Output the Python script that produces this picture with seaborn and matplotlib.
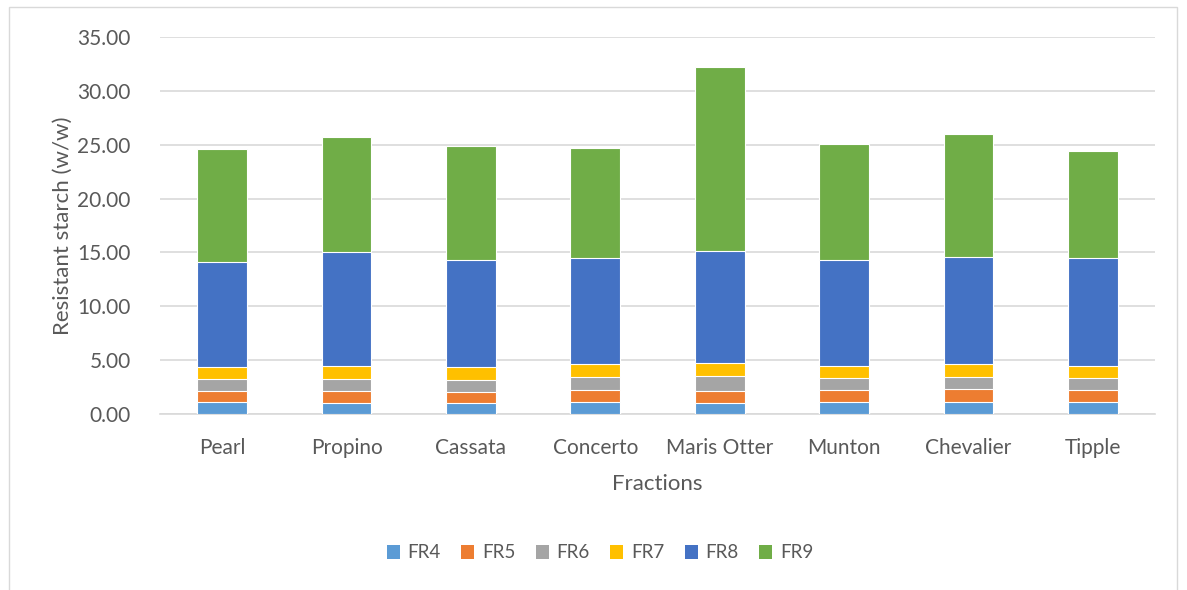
import matplotlib
matplotlib.use("Agg")
import matplotlib.pyplot as plt
from matplotlib.patches import Rectangle, Patch
import numpy as np
import pandas as pd
import seaborn as sns

varieties = ["Pearl", "Propino", "Cassata", "Concerto", "Maris Otter",
             "Munton", "Chevalier", "Tipple"]
fractions = ["FR4", "FR5", "FR6", "FR7", "FR8", "FR9"]

fr4 = [1.10, 1.04, 1.04, 1.13, 1.04, 1.13, 1.13, 1.10]
fr5 = [1.05, 1.14, 1.02, 1.14, 1.14, 1.12, 1.21, 1.15]
fr6 = [1.08, 1.09, 1.12, 1.15, 1.33, 1.11, 1.11, 1.07]
fr7 = [1.09, 1.17, 1.14, 1.18, 1.24, 1.12, 1.17, 1.18]
fr8 = [9.81, 10.62, 10.00, 9.84, 10.34, 9.84, 9.91, 9.97]
fr9 = [10.49, 10.64, 10.55, 10.21, 17.15, 10.77, 11.49, 9.93]

colors = ["#5B9BD5", "#ED7D31", "#A5A5A5", "#FFC000", "#4472C4", "#70AD47"]
text_color = "#595959"
grid_color = "#D9D9D9"

sns.set_theme(style="white")
plt.rcParams["font.family"] = ["Lato", "DejaVu Sans"]

df = pd.DataFrame({"FR4": fr4, "FR5": fr5, "FR6": fr6, "FR7": fr7,
                   "FR8": fr8, "FR9": fr9}, index=varieties)
cum = df[fractions].cumsum(axis=1)

fig = plt.figure(figsize=(11.87, 5.90), dpi=100)
ax = fig.add_axes([160 / 1187, 1 - 414 / 590, 995 / 1187, 377 / 590])

# stacked bars: draw cumulative totals from the top segment down
for name, col in reversed(list(zip(fractions, colors))):
    sns.barplot(x=varieties, y=cum[name].values, color=col, width=0.4,
                edgecolor="white", linewidth=0.8, saturation=1, ax=ax, zorder=3)

ax.set_ylim(0, 35)
ax.set_yticks(np.arange(0, 35.01, 5))
ax.set_yticklabels([f"{v:.2f}" for v in np.arange(0, 35.01, 5)])
ax.yaxis.grid(True, color=grid_color, linewidth=1.2, zorder=0)
ax.set_axisbelow(True)
for s in ["top", "right", "left"]:
    ax.spines[s].set_visible(False)
ax.spines["bottom"].set_color(grid_color)
ax.spines["bottom"].set_linewidth(1.2)
ax.tick_params(axis="both", length=0, labelsize=15, colors=text_color)
ax.tick_params(axis="y", pad=21)
ax.tick_params(axis="x", pad=17)

ax.set_xlabel("Fractions", fontsize=16, color=text_color, labelpad=12)
ax.set_ylabel("Resistant starch (w/w)", fontsize=16, color=text_color, labelpad=3)

handles = [Patch(facecolor=c, edgecolor="none") for c in colors]
fig.legend(handles, fractions, loc="center", ncol=6,
           bbox_to_anchor=(600 / 1187, 1 - 553 / 590), frameon=False,
           fontsize=13.5, labelcolor=text_color, handlelength=0.7,
           handleheight=0.7, handletextpad=0.4, columnspacing=1.1)

fig.patches.append(Rectangle((9 / 1187, -0.01), 1168 / 1187, 1 - 7 / 590 + 0.01,
                             transform=fig.transFigure, fill=False,
                             edgecolor=grid_color, linewidth=1))

fig.savefig("out.png", dpi=100, facecolor="white")
